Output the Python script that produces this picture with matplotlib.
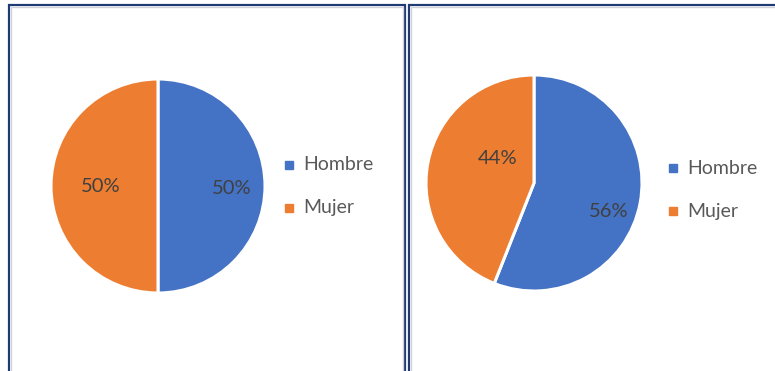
import matplotlib.pyplot as plt
from matplotlib.patches import Rectangle

categories = ["Hombre", "Mujer"]
left_values = [50, 50]
right_values = [56, 44]

colors = ["#4472C4", "#ED7D31"]
text_color = "#595959"
label_color = "#404040"

W, H = 775, 371
fig = plt.figure(figsize=(W / 100, H / 100), dpi=100)
fig.patch.set_facecolor("white")


def px(x, y, w, h):
    # pixel box (top-left origin) -> figure fraction
    return [x / W, 1 - (y + h) / H, w / W, h / H]


def frame(x0, x1):
    y0 = 5
    r = Rectangle((x0 / W, -0.05), (x1 - x0) / W, 1 - y0 / H + 0.05,
                  transform=fig.transFigure, fill=False,
                  edgecolor="#1F3A73", linewidth=1.6, zorder=5)
    fig.add_artist(r)
    inner = Rectangle(((x0 + 2) / W, -0.05), (x1 - x0 - 4) / W, 1 - (y0 + 2) / H + 0.05,
                      transform=fig.transFigure, fill=False,
                      edgecolor="#D0D3DA", linewidth=1.0, zorder=5)
    fig.add_artist(inner)


frame(9, 405)
frame(409, 790)


def draw_pie(values, cx, cy, r, label_pos, legend_xy):
    ax = fig.add_axes(px(cx - r, cy - r, 2 * r, 2 * r))
    wedges, _, autotexts = ax.pie(
        values, colors=colors, startangle=90, counterclock=False,
        autopct="%1.0f%%", radius=1,
        wedgeprops=dict(edgecolor="white", linewidth=2.2),
        textprops=dict(color=label_color, fontsize=14.5, family="Lato"),
    )
    for t, pos in zip(autotexts, label_pos):
        t.set_position(pos)
        t.set_ha("center")
        t.set_va("center")
    ax.set_xlim(-1, 1)
    ax.set_ylim(-1, 1)
    ax.set_aspect("equal")
    ax.axis("off")

    lx, ly = legend_xy
    for i, name in enumerate(categories):
        y = ly + i * 43
        fig.add_artist(Rectangle(((lx) / W, 1 - (y + 4) / H), 8 / W, 8 / H,
                                 transform=fig.transFigure, color=colors[i]))
        fig.text((lx + 18) / W, 1 - y / H, name, color=text_color,
                 fontsize=14, family="Lato", va="center", ha="left")


draw_pie(left_values, 158, 186, 107,
         [(0.69, -0.02), (-0.54, 0.0)], (285, 165))
draw_pie(right_values, 534, 183, 108,
         [(0.69, -0.26), (-0.34, 0.23)], (669, 168))

fig.savefig("out.png", dpi=100, facecolor="white")
